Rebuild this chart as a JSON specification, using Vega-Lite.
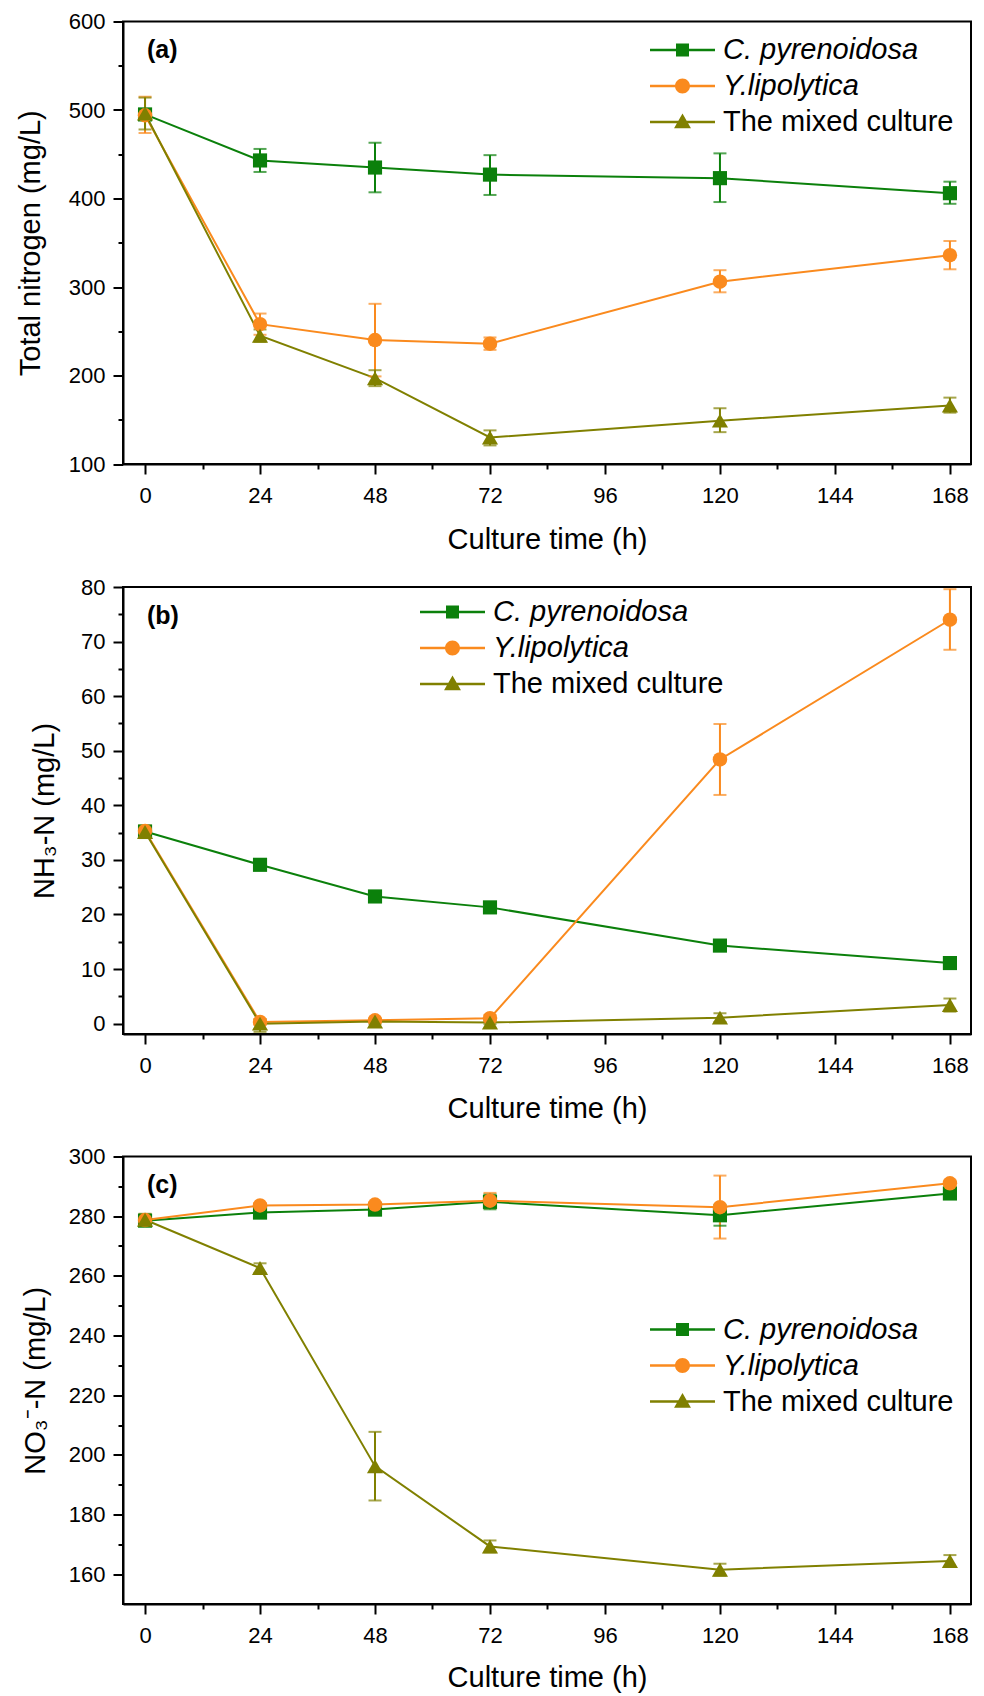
{
"$schema": "https://vega.github.io/schema/vega-lite/v6.json",
"background": "white",
"padding": {"left": 15, "top": 9.5, "right": 0, "bottom": 0},
"spacing": 122.5,
"bounds": "flush",
"resolve": {"scale": {"color": "independent", "shape": "independent"}},
"config": {
  "font": "Liberation Sans",
  "view": {"stroke": "black", "strokeWidth": 2},
  "axis": {"grid": false, "domainColor": "black", "domainWidth": 2, "tickColor": "black", "tickWidth": 2, "labelColor": "black", "labelFont": "Liberation Sans", "labelFontSize": 22, "titleFont": "Liberation Sans", "titleFontSize": 29, "titleFontWeight": "normal", "titleColor": "black", "labelFlush": false, "labelOverlap": false},
  "legend": {"symbolSize": 1056.25, "symbolStrokeWidth": 0, "symbolOpacity": 1, "labelFontSize": 29, "labelFont": "Liberation Sans", "labelColor": "black", "labelOffset": 24, "rowPadding": 4, "labelLimit": 600, "padding": 0},
  "title": {"font": "Liberation Sans", "color": "black"}
},
"datasets": {
  "a": [
    {"series":"C. pyrenoidosa","t":0,"v":495,"lo":492,"hi":498},
    {"series":"C. pyrenoidosa","t":24,"v":443,"lo":430,"hi":456},
    {"series":"C. pyrenoidosa","t":48,"v":435,"lo":407,"hi":463},
    {"series":"C. pyrenoidosa","t":72,"v":427,"lo":404,"hi":449},
    {"series":"C. pyrenoidosa","t":120,"v":423,"lo":396,"hi":451},
    {"series":"C. pyrenoidosa","t":168,"v":406,"lo":394,"hi":419},
    {"series":"Y.lipolytica","t":0,"v":494,"lo":474,"hi":515},
    {"series":"Y.lipolytica","t":24,"v":258,"lo":246,"hi":270},
    {"series":"Y.lipolytica","t":48,"v":240,"lo":199,"hi":281},
    {"series":"Y.lipolytica","t":72,"v":236,"lo":229,"hi":243},
    {"series":"Y.lipolytica","t":120,"v":306,"lo":294,"hi":319},
    {"series":"Y.lipolytica","t":168,"v":336,"lo":320,"hi":352},
    {"series":"The mixed culture","t":0,"v":496,"lo":478,"hi":514},
    {"series":"The mixed culture","t":24,"v":245,"lo":238,"hi":252},
    {"series":"The mixed culture","t":48,"v":197,"lo":188,"hi":206},
    {"series":"The mixed culture","t":72,"v":130,"lo":121,"hi":138},
    {"series":"The mixed culture","t":120,"v":149,"lo":136,"hi":163},
    {"series":"The mixed culture","t":168,"v":166,"lo":158,"hi":175}
  ],
  "b": [
    {"series":"C. pyrenoidosa","t":0,"v":35.2,"lo":34.4,"hi":36.0},
    {"series":"C. pyrenoidosa","t":24,"v":29.1,"lo":28.2,"hi":30.0},
    {"series":"C. pyrenoidosa","t":48,"v":23.3,"lo":22.5,"hi":24.1},
    {"series":"C. pyrenoidosa","t":72,"v":21.3,"lo":20.5,"hi":22.1},
    {"series":"C. pyrenoidosa","t":120,"v":14.3,"lo":13.3,"hi":15.3},
    {"series":"C. pyrenoidosa","t":168,"v":11.1,"lo":10.3,"hi":11.9},
    {"series":"Y.lipolytica","t":0,"v":35.3,"lo":34.3,"hi":36.3},
    {"series":"Y.lipolytica","t":24,"v":0.3,"lo":-0.2,"hi":0.8},
    {"series":"Y.lipolytica","t":48,"v":0.6,"lo":0.2,"hi":1.0},
    {"series":"Y.lipolytica","t":72,"v":1.0,"lo":0.4,"hi":1.6},
    {"series":"Y.lipolytica","t":120,"v":48.4,"lo":41.9,"hi":54.9},
    {"series":"Y.lipolytica","t":168,"v":74.0,"lo":68.5,"hi":79.6},
    {"series":"The mixed culture","t":0,"v":35.1,"lo":34.0,"hi":36.2},
    {"series":"The mixed culture","t":24,"v":0.0,"lo":-1.5,"hi":0.8},
    {"series":"The mixed culture","t":48,"v":0.4,"lo":-0.1,"hi":0.9},
    {"series":"The mixed culture","t":72,"v":0.2,"lo":-0.1,"hi":0.5},
    {"series":"The mixed culture","t":120,"v":1.1,"lo":0.3,"hi":1.9},
    {"series":"The mixed culture","t":168,"v":3.4,"lo":2.2,"hi":4.6}
  ],
  "c": [
    {"series":"C. pyrenoidosa","t":0,"v":278.5,"lo":277.0,"hi":280.0},
    {"series":"C. pyrenoidosa","t":24,"v":281.2,"lo":280.2,"hi":282.2},
    {"series":"C. pyrenoidosa","t":48,"v":282.2,"lo":281.2,"hi":283.2},
    {"series":"C. pyrenoidosa","t":72,"v":284.8,"lo":282.3,"hi":287.3},
    {"series":"C. pyrenoidosa","t":120,"v":280.3,"lo":276.8,"hi":283.8},
    {"series":"C. pyrenoidosa","t":168,"v":287.6,"lo":286.6,"hi":288.6},
    {"series":"Y.lipolytica","t":0,"v":278.7,"lo":277.7,"hi":279.7},
    {"series":"Y.lipolytica","t":24,"v":283.6,"lo":282.8,"hi":284.4},
    {"series":"Y.lipolytica","t":48,"v":283.9,"lo":283.1,"hi":284.7},
    {"series":"Y.lipolytica","t":72,"v":285.2,"lo":282.7,"hi":287.8},
    {"series":"Y.lipolytica","t":120,"v":283.0,"lo":272.5,"hi":293.6},
    {"series":"Y.lipolytica","t":168,"v":291.0,"lo":290.0,"hi":292.0},
    {"series":"The mixed culture","t":0,"v":278.8,"lo":276.8,"hi":280.8},
    {"series":"The mixed culture","t":24,"v":262.6,"lo":261.0,"hi":264.2},
    {"series":"The mixed culture","t":48,"v":196.2,"lo":184.7,"hi":207.7},
    {"series":"The mixed culture","t":72,"v":169.3,"lo":167.3,"hi":171.3},
    {"series":"The mixed culture","t":120,"v":161.5,"lo":159.5,"hi":163.5},
    {"series":"The mixed culture","t":168,"v":164.4,"lo":162.4,"hi":166.4}
  ]
},
"vconcat": [
{
  "width": 848, "height": 442.5,
  "data": {"name": "a"},
  "title": {"text": "(a)", "anchor": "start", "frame": "group", "fontSize": 25, "fontWeight": "bold", "baseline": "middle", "offset": 0, "dx": 24, "dy": 64.5},
  "resolve": {"axis": {"x": "independent", "y": "independent"}},
  "layer": [
    {"transform": [{"filter": "false"}],
     "mark": {"type": "point", "filled": true, "opacity": 1, "strokeWidth": 0},
     "encoding": {
       "x": {"field": "t", "type": "quantitative", "scale": {"domain": [-4.6, 172.4], "nice": false, "zero": false}, "axis": {"orient": "bottom", "values": [12,36,60,84,108,132,156], "tickSize": 5, "labels": false, "domain": false, "title": null}},
       "y": {"field": "v", "type": "quantitative", "scale": {"domain": [100, 600], "nice": false, "zero": false}, "axis": {"orient": "left", "values": [150,250,350,450,550], "tickSize": 5, "labels": false, "domain": false, "title": null}},
       "color": {"field": "series", "type": "nominal", "scale": {"domain": ["C. pyrenoidosa","Y.lipolytica","The mixed culture"], "range": ["#0b800b","#fa8a1e","#808000"]}, "legend": {"orient": "none", "legendX": 543, "legendY": 12, "title": null, "encode": {"labels": {"update": {"fontStyle": {"signal": "datum.label == 'The mixed culture' ? 'normal' : 'italic'"}}}}}},
       "shape": {"field": "series", "type": "nominal", "scale": {"domain": ["C. pyrenoidosa","Y.lipolytica","The mixed culture"], "range": ["M-2,-0.077H2V0.077H-2Z M-0.4,-0.4H0.4V0.4H-0.4Z", "M-2,-0.077H2V0.077H-2Z M-0.46,0A0.46,0.46,0,1,1,0.46,0A0.46,0.46,0,1,1,-0.46,0Z", "M-2,-0.077H2V0.077H-2Z M0,-0.52L0.52,0.38H-0.52Z"]}, "legend": {"orient": "none", "legendX": 543, "legendY": 12, "title": null, "encode": {"labels": {"update": {"fontStyle": {"signal": "datum.label == 'The mixed culture' ? 'normal' : 'italic'"}}}}}}
     }},
    {"mark": {"type": "line", "strokeWidth": 2},
     "encoding": {
       "x": {"field": "t", "type": "quantitative", "scale": {"domain": [-4.6, 172.4], "nice": false, "zero": false}, "axis": {"orient": "bottom", "values": [0,24,48,72,96,120,144,168], "tickSize": 10, "labelPadding": 11, "title": "Culture time (h)", "titleY": 75, "titleBaseline": "middle"}},
       "y": {"field": "v", "type": "quantitative", "scale": {"domain": [100, 600], "nice": false, "zero": false}, "axis": {"orient": "left", "values": [100,200,300,400,500,600], "tickSize": 10, "labelPadding": 8, "title": "Total nitrogen (mg/L)", "titleX": -93, "titleBaseline": "middle"}},
       "color": {"field": "series", "type": "nominal"}
     }},
    {"mark": {"type": "rule", "strokeWidth": 2},
     "encoding": {"x": {"field": "t", "type": "quantitative", "axis": null}, "y": {"field": "lo", "type": "quantitative", "axis": null}, "y2": {"field": "hi"}, "color": {"field": "series", "type": "nominal"}}},
    {"mark": {"type": "tick", "orient": "horizontal", "size": 13, "thickness": 2},
     "encoding": {"x": {"field": "t", "type": "quantitative", "axis": null}, "y": {"field": "lo", "type": "quantitative", "axis": null}, "color": {"field": "series", "type": "nominal"}}},
    {"mark": {"type": "tick", "orient": "horizontal", "size": 13, "thickness": 2},
     "encoding": {"x": {"field": "t", "type": "quantitative", "axis": null}, "y": {"field": "hi", "type": "quantitative", "axis": null}, "color": {"field": "series", "type": "nominal"}}},
    {"transform": [{"filter": "datum.series == 'C. pyrenoidosa'"}],
     "mark": {"type": "point", "shape": "square", "size": 200, "filled": true, "opacity": 1},
     "encoding": {"x": {"field": "t", "type": "quantitative", "axis": null}, "y": {"field": "v", "type": "quantitative", "axis": null}, "color": {"field": "series", "type": "nominal"}}},
    {"transform": [{"filter": "datum.series == 'Y.lipolytica'"}],
     "mark": {"type": "point", "shape": "circle", "size": 210, "filled": true, "opacity": 1},
     "encoding": {"x": {"field": "t", "type": "quantitative", "axis": null}, "y": {"field": "v", "type": "quantitative", "axis": null}, "color": {"field": "series", "type": "nominal"}}},
    {"transform": [{"filter": "datum.series == 'The mixed culture'"}],
     "mark": {"type": "point", "shape": "triangle-up", "size": 260, "filled": true, "opacity": 1},
     "encoding": {"x": {"field": "t", "type": "quantitative", "axis": null}, "y": {"field": "v", "type": "quantitative", "axis": null}, "color": {"field": "series", "type": "nominal"}}}
  ]
},
{
  "width": 848, "height": 447,
  "data": {"name": "b"},
  "title": {"text": "(b)", "anchor": "start", "frame": "group", "fontSize": 25, "fontWeight": "bold", "baseline": "middle", "offset": 0, "dx": 24, "dy": 64.5},
  "resolve": {"axis": {"x": "independent", "y": "independent"}},
  "layer": [
    {"transform": [{"filter": "false"}],
     "mark": {"type": "point", "filled": true, "opacity": 1, "strokeWidth": 0},
     "encoding": {
       "x": {"field": "t", "type": "quantitative", "scale": {"domain": [-4.6, 172.4], "nice": false, "zero": false}, "axis": {"orient": "bottom", "values": [12,36,60,84,108,132,156], "tickSize": 5, "labels": false, "domain": false, "title": null}},
       "y": {"field": "v", "type": "quantitative", "scale": {"domain": [-1.9, 80], "nice": false, "zero": false}, "axis": {"orient": "left", "values": [5,15,25,35,45,55,65,75], "tickSize": 5, "labels": false, "domain": false, "title": null}},
       "color": {"field": "series", "type": "nominal", "scale": {"domain": ["C. pyrenoidosa","Y.lipolytica","The mixed culture"], "range": ["#0b800b","#fa8a1e","#808000"]}, "legend": {"orient": "none", "legendX": 313, "legendY": 8.5, "title": null, "encode": {"labels": {"update": {"fontStyle": {"signal": "datum.label == 'The mixed culture' ? 'normal' : 'italic'"}}}}}},
       "shape": {"field": "series", "type": "nominal", "scale": {"domain": ["C. pyrenoidosa","Y.lipolytica","The mixed culture"], "range": ["M-2,-0.077H2V0.077H-2Z M-0.4,-0.4H0.4V0.4H-0.4Z", "M-2,-0.077H2V0.077H-2Z M-0.46,0A0.46,0.46,0,1,1,0.46,0A0.46,0.46,0,1,1,-0.46,0Z", "M-2,-0.077H2V0.077H-2Z M0,-0.52L0.52,0.38H-0.52Z"]}, "legend": {"orient": "none", "legendX": 313, "legendY": 8.5, "title": null, "encode": {"labels": {"update": {"fontStyle": {"signal": "datum.label == 'The mixed culture' ? 'normal' : 'italic'"}}}}}}
     }},
    {"mark": {"type": "line", "strokeWidth": 2},
     "encoding": {
       "x": {"field": "t", "type": "quantitative", "scale": {"domain": [-4.6, 172.4], "nice": false, "zero": false}, "axis": {"orient": "bottom", "values": [0,24,48,72,96,120,144,168], "tickSize": 10, "labelPadding": 11, "title": "Culture time (h)", "titleY": 74, "titleBaseline": "middle"}},
       "y": {"field": "v", "type": "quantitative", "scale": {"domain": [-1.9, 80], "nice": false, "zero": false}, "axis": {"orient": "left", "values": [0,10,20,30,40,50,60,70,80], "tickSize": 10, "labelPadding": 8, "title": "NH₃-N  (mg/L)", "titleX": -79, "titleBaseline": "middle"}},
       "color": {"field": "series", "type": "nominal"}
     }},
    {"mark": {"type": "rule", "strokeWidth": 2},
     "encoding": {"x": {"field": "t", "type": "quantitative", "axis": null}, "y": {"field": "lo", "type": "quantitative", "axis": null}, "y2": {"field": "hi"}, "color": {"field": "series", "type": "nominal"}}},
    {"mark": {"type": "tick", "orient": "horizontal", "size": 13, "thickness": 2},
     "encoding": {"x": {"field": "t", "type": "quantitative", "axis": null}, "y": {"field": "lo", "type": "quantitative", "axis": null}, "color": {"field": "series", "type": "nominal"}}},
    {"mark": {"type": "tick", "orient": "horizontal", "size": 13, "thickness": 2},
     "encoding": {"x": {"field": "t", "type": "quantitative", "axis": null}, "y": {"field": "hi", "type": "quantitative", "axis": null}, "color": {"field": "series", "type": "nominal"}}},
    {"transform": [{"filter": "datum.series == 'C. pyrenoidosa'"}],
     "mark": {"type": "point", "shape": "square", "size": 200, "filled": true, "opacity": 1},
     "encoding": {"x": {"field": "t", "type": "quantitative", "axis": null}, "y": {"field": "v", "type": "quantitative", "axis": null}, "color": {"field": "series", "type": "nominal"}}},
    {"transform": [{"filter": "datum.series == 'Y.lipolytica'"}],
     "mark": {"type": "point", "shape": "circle", "size": 210, "filled": true, "opacity": 1},
     "encoding": {"x": {"field": "t", "type": "quantitative", "axis": null}, "y": {"field": "v", "type": "quantitative", "axis": null}, "color": {"field": "series", "type": "nominal"}}},
    {"transform": [{"filter": "datum.series == 'The mixed culture'"}],
     "mark": {"type": "point", "shape": "triangle-up", "size": 260, "filled": true, "opacity": 1},
     "encoding": {"x": {"field": "t", "type": "quantitative", "axis": null}, "y": {"field": "v", "type": "quantitative", "axis": null}, "color": {"field": "series", "type": "nominal"}}}
  ]
},
{
  "width": 848, "height": 447.5,
  "data": {"name": "c"},
  "title": {"text": "(c)", "anchor": "start", "frame": "group", "fontSize": 25, "fontWeight": "bold", "baseline": "middle", "offset": 0, "dx": 24, "dy": 64.5},
  "resolve": {"axis": {"x": "independent", "y": "independent"}},
  "layer": [
    {"transform": [{"filter": "false"}],
     "mark": {"type": "point", "filled": true, "opacity": 1, "strokeWidth": 0},
     "encoding": {
       "x": {"field": "t", "type": "quantitative", "scale": {"domain": [-4.6, 172.4], "nice": false, "zero": false}, "axis": {"orient": "bottom", "values": [12,36,60,84,108,132,156], "tickSize": 5, "labels": false, "domain": false, "title": null}},
       "y": {"field": "v", "type": "quantitative", "scale": {"domain": [150, 300], "nice": false, "zero": false}, "axis": {"orient": "left", "values": [170,190,210,230,250,270,290], "tickSize": 5, "labels": false, "domain": false, "title": null}},
       "color": {"field": "series", "type": "nominal", "scale": {"domain": ["C. pyrenoidosa","Y.lipolytica","The mixed culture"], "range": ["#0b800b","#fa8a1e","#808000"]}, "legend": {"orient": "none", "legendX": 543, "legendY": 156.5, "title": null, "encode": {"labels": {"update": {"fontStyle": {"signal": "datum.label == 'The mixed culture' ? 'normal' : 'italic'"}}}}}},
       "shape": {"field": "series", "type": "nominal", "scale": {"domain": ["C. pyrenoidosa","Y.lipolytica","The mixed culture"], "range": ["M-2,-0.077H2V0.077H-2Z M-0.4,-0.4H0.4V0.4H-0.4Z", "M-2,-0.077H2V0.077H-2Z M-0.46,0A0.46,0.46,0,1,1,0.46,0A0.46,0.46,0,1,1,-0.46,0Z", "M-2,-0.077H2V0.077H-2Z M0,-0.52L0.52,0.38H-0.52Z"]}, "legend": {"orient": "none", "legendX": 543, "legendY": 156.5, "title": null, "encode": {"labels": {"update": {"fontStyle": {"signal": "datum.label == 'The mixed culture' ? 'normal' : 'italic'"}}}}}}
     }},
    {"mark": {"type": "line", "strokeWidth": 2},
     "encoding": {
       "x": {"field": "t", "type": "quantitative", "scale": {"domain": [-4.6, 172.4], "nice": false, "zero": false}, "axis": {"orient": "bottom", "values": [0,24,48,72,96,120,144,168], "tickSize": 10, "labelPadding": 11, "title": "Culture time (h)", "titleY": 73, "titleBaseline": "middle"}},
       "y": {"field": "v", "type": "quantitative", "scale": {"domain": [150, 300], "nice": false, "zero": false}, "axis": {"orient": "left", "values": [160,180,200,220,240,260,280,300], "tickSize": 10, "labelPadding": 8, "title": "NO₃⁻-N (mg/L)", "titleX": -88, "titleBaseline": "middle"}},
       "color": {"field": "series", "type": "nominal"}
     }},
    {"mark": {"type": "rule", "strokeWidth": 2},
     "encoding": {"x": {"field": "t", "type": "quantitative", "axis": null}, "y": {"field": "lo", "type": "quantitative", "axis": null}, "y2": {"field": "hi"}, "color": {"field": "series", "type": "nominal"}}},
    {"mark": {"type": "tick", "orient": "horizontal", "size": 13, "thickness": 2},
     "encoding": {"x": {"field": "t", "type": "quantitative", "axis": null}, "y": {"field": "lo", "type": "quantitative", "axis": null}, "color": {"field": "series", "type": "nominal"}}},
    {"mark": {"type": "tick", "orient": "horizontal", "size": 13, "thickness": 2},
     "encoding": {"x": {"field": "t", "type": "quantitative", "axis": null}, "y": {"field": "hi", "type": "quantitative", "axis": null}, "color": {"field": "series", "type": "nominal"}}},
    {"transform": [{"filter": "datum.series == 'C. pyrenoidosa'"}],
     "mark": {"type": "point", "shape": "square", "size": 200, "filled": true, "opacity": 1},
     "encoding": {"x": {"field": "t", "type": "quantitative", "axis": null}, "y": {"field": "v", "type": "quantitative", "axis": null}, "color": {"field": "series", "type": "nominal"}}},
    {"transform": [{"filter": "datum.series == 'Y.lipolytica'"}],
     "mark": {"type": "point", "shape": "circle", "size": 210, "filled": true, "opacity": 1},
     "encoding": {"x": {"field": "t", "type": "quantitative", "axis": null}, "y": {"field": "v", "type": "quantitative", "axis": null}, "color": {"field": "series", "type": "nominal"}}},
    {"transform": [{"filter": "datum.series == 'The mixed culture'"}],
     "mark": {"type": "point", "shape": "triangle-up", "size": 260, "filled": true, "opacity": 1},
     "encoding": {"x": {"field": "t", "type": "quantitative", "axis": null}, "y": {"field": "v", "type": "quantitative", "axis": null}, "color": {"field": "series", "type": "nominal"}}}
  ]
}
]
}
